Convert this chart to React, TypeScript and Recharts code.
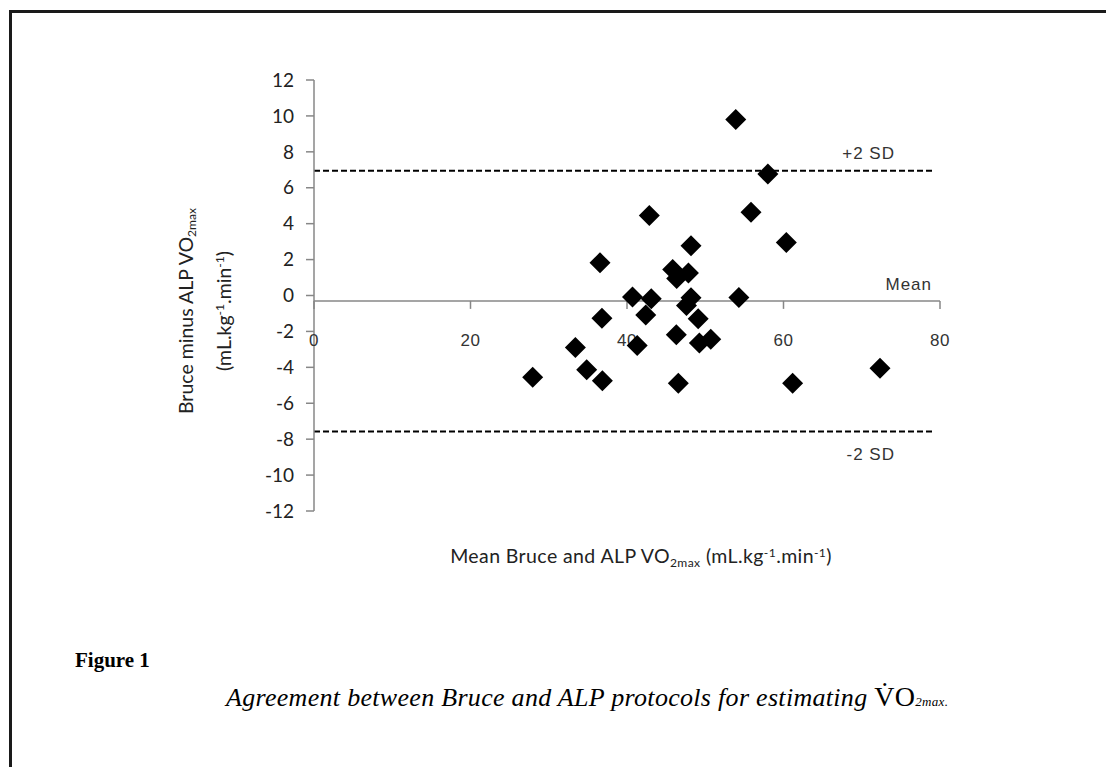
import { ScatterChart, Scatter, XAxis, YAxis, ReferenceLine, ReferenceDot } from "recharts";

// mean of the two protocols (x) and Bruce minus ALP difference (y)
const meanVO2 = [
  27.95, 33.4, 34.85, 36.85, 36.55, 36.8, 40.7, 41.3, 42.4, 42.85,
  43.1, 45.84, 46.35, 46.3, 46.56, 47.6, 47.85, 48.18, 48.18, 49.1,
  49.25, 50.7, 53.9, 54.3, 55.85, 58.0, 60.36, 61.17, 72.33,
];
const diffVO2 = [
  -4.55, -2.9, -4.14, -4.75, 1.82, -1.26, -0.08, -2.78, -1.08, 4.46,
  -0.18, 1.45, 0.95, -2.19, -4.88, -0.55, 1.25, -0.12, 2.77, -1.29,
  -2.64, -2.43, 9.8, -0.11, 4.64, 6.76, 2.95, -4.88, -4.05,
];

const xTicks = [0, 20, 40, 60, 80];
const yTicks = [12, 10, 8, 6, 4, 2, 0, -2, -4, -6, -8, -10, -12];

const MEAN_DIFF = -0.3;
const UPPER_SD = 6.95;
const LOWER_SD = -7.58;
const LIMIT_END = 79.1;

const points = meanVO2.map((m, i) => ({ x: m, y: diffVO2[i] }));

const AXIS_GREY = "#878787";
const SANS = "Lato, 'Open Sans', sans-serif";
const ARIAL = "'Liberation Sans', Arial, sans-serif";

const Diamond = (props: any) => {
  const { cx, cy } = props;
  const r = 10.5;
  return (
    <polygon
      points={`${cx},${cy - r} ${cx + r},${cy} ${cx},${cy + r} ${cx - r},${cy}`}
      fill="#000"
    />
  );
};

// tick mark + label hanging under the mean line (the x axis crosses there)
const XTick = (props: any) => {
  const { cx, cy, value } = props;
  return (
    <g>
      <line x1={cx} y1={cy} x2={cx} y2={cy + 8} stroke={AXIS_GREY} strokeWidth={1.5} />
      <text
        x={cx}
        y={cy + 40}
        textAnchor="middle"
        dominantBaseline="central"
        fontFamily={ARIAL}
        fontSize={17}
        fill="#333"
        letterSpacing={0.5}
      >
        {value}
      </text>
    </g>
  );
};

const lineLabel = (text: string, dx: number, dy: number) => (props: any) => {
  const { viewBox } = props;
  return (
    <text
      x={viewBox.x + viewBox.width - dx}
      y={viewBox.y + dy}
      textAnchor="end"
      dominantBaseline="central"
      fontFamily={ARIAL}
      fontSize={17}
      fill="#333"
      letterSpacing={1}
    >
      {text}
    </text>
  );
};

const sub = { fontSize: "0.62em", verticalAlign: "-0.3em" } as const;
const sup = { fontSize: "0.62em", verticalAlign: "0.55em" } as const;

export default function App() {
  return (
    <div
      style={{
        position: "absolute",
        left: 0,
        top: 0,
        width: 1106,
        height: 767,
        overflow: "hidden",
        background: "#fff",
      }}
    >
      <div
        style={{
          position: "absolute",
          left: 9,
          top: 10,
          width: 1200,
          height: 900,
          borderLeft: "3px solid #1a1a1a",
          borderTop: "3px solid #1a1a1a",
        }}
      />

      <div style={{ position: "absolute", left: 0, top: 0 }}>
        <ScatterChart
          width={1106}
          height={767}
          margin={{ top: 80, right: 166, bottom: 256, left: 254 }}
        >
          <XAxis type="number" dataKey="x" domain={[0, 80]} ticks={xTicks} hide />
          <YAxis
            type="number"
            dataKey="y"
            domain={[-12, 12]}
            ticks={yTicks}
            width={60}
            interval={0}
            axisLine={{ stroke: AXIS_GREY, strokeWidth: 1.5 }}
            tickLine={{ stroke: AXIS_GREY, strokeWidth: 1.5 }}
            tickSize={8}
            tickMargin={12}
            tick={{ fontFamily: SANS, fontSize: 19, fill: "#222" }}
          />
          <ReferenceLine
            segment={[
              { x: 0, y: UPPER_SD },
              { x: LIMIT_END, y: UPPER_SD },
            ]}
            stroke="#000"
            strokeWidth={2}
            strokeDasharray="6 3"
            label={{ content: lineLabel("+2 SD", 38, -17) }}
          />
          <ReferenceLine
            segment={[
              { x: 0, y: LOWER_SD },
              { x: LIMIT_END, y: LOWER_SD },
            ]}
            stroke="#000"
            strokeWidth={2}
            strokeDasharray="6 3"
            label={{ content: lineLabel("-2 SD", 38, 23) }}
          />
          <ReferenceLine
            y={MEAN_DIFF}
            stroke={AXIS_GREY}
            strokeWidth={1.5}
            label={{ content: lineLabel("Mean", 8, -16) }}
          />
          {xTicks.map((t) => (
            <ReferenceDot
              key={t}
              x={t}
              y={MEAN_DIFF}
              r={0}
              shape={(p: any) => <XTick {...p} value={t} />}
            />
          ))}
          <Scatter data={points} shape={<Diamond />} isAnimationActive={false} />
        </ScatterChart>
      </div>

      <div
        style={{
          position: "absolute",
          left: 204,
          top: 311,
          transform: "translate(-50%, -50%) rotate(-90deg)",
          whiteSpace: "nowrap",
          textAlign: "center",
          fontFamily: SANS,
          fontSize: 19.5,
          lineHeight: "27px",
          color: "#222",
        }}
      >
        <div>
          Bruce minus ALP VO<span style={sub}>2max</span>
        </div>
        <div>
          (mL.kg<span style={sup}>-1</span>.min<span style={sup}>-1</span>)
        </div>
      </div>

      <div
        style={{
          position: "absolute",
          left: 641,
          top: 557,
          transform: "translate(-50%, -50%)",
          whiteSpace: "nowrap",
          fontFamily: SANS,
          fontSize: 19.5,
          letterSpacing: 0.4,
          color: "#222",
        }}
      >
        Mean Bruce and ALP VO<span style={sub}>2max</span> (mL.kg<span style={sup}>-1</span>.min
        <span style={sup}>-1</span>)
      </div>

      <div
        style={{
          position: "absolute",
          left: 75,
          top: 660,
          transform: "translateY(-50%)",
          fontFamily: "'Liberation Serif', serif",
          fontWeight: "bold",
          fontSize: 21,
          color: "#000",
          whiteSpace: "nowrap",
        }}
      >
        Figure 1
      </div>

      <div
        style={{
          position: "absolute",
          left: 226,
          top: 697,
          transform: "translateY(-50%)",
          fontFamily: "'Liberation Serif', serif",
          fontStyle: "italic",
          fontSize: 26,
          letterSpacing: 0.3,
          color: "#000",
          whiteSpace: "nowrap",
        }}
      >
        Agreement between Bruce and ALP protocols for estimating{" "}
        <span style={{ fontStyle: "normal", fontSize: 28 }}>V̇O</span>
        <span style={{ fontSize: 13 }}>2max.</span>
      </div>
    </div>
  );
}
